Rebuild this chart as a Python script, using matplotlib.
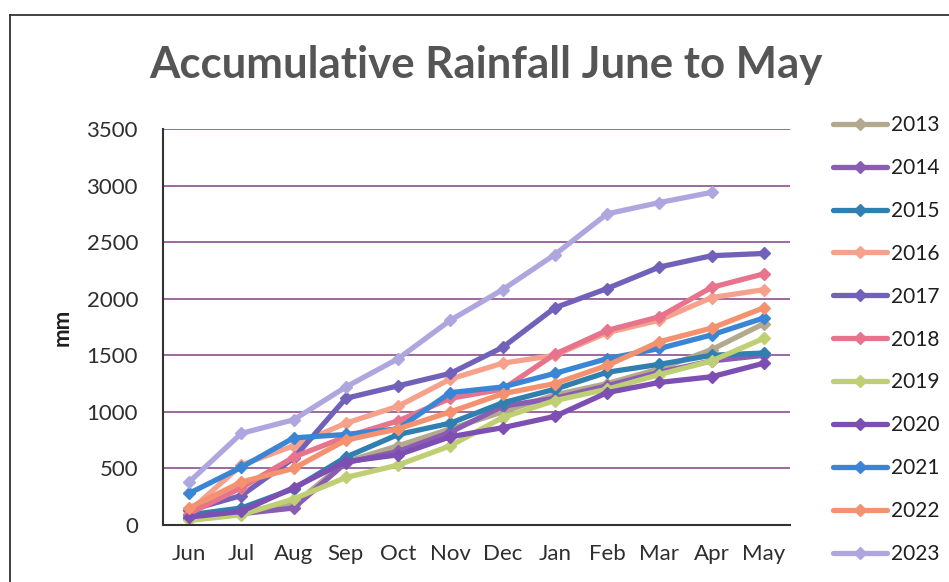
import numpy as np
import matplotlib.pyplot as plt
from matplotlib.lines import Line2D

plt.rcParams['font.family'] = ['Lato', 'DejaVu Sans']

months = ["Jun", "Jul", "Aug", "Sep", "Oct", "Nov", "Dec", "Jan", "Feb", "Mar", "Apr", "May"]
years = ["2013", "2014", "2015", "2016", "2017", "2018", "2019", "2020", "2021", "2022", "2023"]

# cumulative rainfall, mm
y2013 = [50, 120, 180, 560, 700, 850, 1000, 1150, 1250, 1380, 1550, 1780]
y2014 = [60, 100, 150, 550, 650, 820, 1050, 1120, 1230, 1350, 1450, 1500]
y2015 = [90, 150, 320, 600, 800, 900, 1080, 1200, 1350, 1420, 1500, 1520]
y2016 = [120, 530, 700, 900, 1050, 1290, 1430, 1500, 1700, 1810, 2010, 2080]
y2017 = [130, 260, 590, 1120, 1230, 1340, 1570, 1920, 2090, 2280, 2380, 2400]
y2018 = [100, 330, 600, 780, 920, 1120, 1200, 1510, 1720, 1840, 2100, 2220]
y2019 = [40, 90, 230, 420, 530, 700, 950, 1100, 1200, 1330, 1450, 1650]
y2020 = [70, 120, 330, 560, 620, 780, 860, 960, 1170, 1260, 1310, 1430]
y2021 = [280, 510, 770, 800, 850, 1170, 1220, 1340, 1470, 1560, 1680, 1830]
y2022 = [150, 380, 500, 750, 850, 1000, 1160, 1250, 1410, 1620, 1740, 1920]
y2023 = [380, 810, 930, 1220, 1470, 1810, 2080, 2390, 2750, 2850, 2940, np.nan]

series = [y2013, y2014, y2015, y2016, y2017, y2018, y2019, y2020, y2021, y2022, y2023]
colors = ["#B3A98E", "#8A5DB3", "#2F7FB0", "#F5A18C", "#7261B8", "#E8738C",
          "#BFCF73", "#7E4FB2", "#3B86D4", "#F4926F", "#AEA6DE"]

fig = plt.figure(figsize=(9.49, 5.82), dpi=100)
ax = fig.add_axes([163 / 949, 57 / 582, 627 / 949, 396 / 582])

x = np.arange(len(months))
handles = []
for vals, c, lab in zip(series, colors, years):
    h, = ax.plot(x, vals, color=c, lw=3.8, marker="D", ms=6.5,
                 mec=c, mfc=c, label=lab, solid_capstyle="round")
    handles.append(h)

ax.set_xlim(-0.5, 11.5)
ax.set_ylim(0, 3500)
ax.set_yticks(np.arange(0, 3501, 500))
ax.set_xticks(x)
ax.set_xticklabels(months)
ax.tick_params(length=0, labelsize=16, colors="#2E2E2E", pad=14)
ax.tick_params(axis="y", pad=18)
ax.grid(axis="y", color="#8E4E8E", lw=1.2)
ax.set_axisbelow(True)
for s in ["top", "right"]:
    ax.spines[s].set_visible(False)
ax.spines["left"].set_color("#333333")
ax.spines["bottom"].set_color("#333333")
ax.spines["left"].set_linewidth(1.5)
ax.spines["bottom"].set_linewidth(1.5)

ax.set_ylabel("mm", fontsize=16, fontweight="bold", color="#1E1E1E", labelpad=10)

fig.text(0.512, 0.888, "Accumulative Rainfall June to May", ha="center", va="center",
         fontsize=31.5, fontweight="bold", color="#555555")

leg = fig.legend(handles=handles, loc="upper left", bbox_to_anchor=(833 / 949, 1 - 115 / 582),
                 frameon=False, fontsize=15, handlelength=2.6, labelspacing=1.1,
                 handletextpad=0.2, borderaxespad=0, borderpad=0)
for t in leg.get_texts():
    t.set_color("#1E1E1E")

# outer frame of the chart
fig.add_artist(Line2D([10 / 949, 10 / 949], [0, 1 - 15 / 582], color="#333333", lw=1.3))
fig.add_artist(Line2D([10 / 949, 1], [1 - 15 / 582, 1 - 15 / 582], color="#333333", lw=1.3))

fig.savefig("out.png", dpi=100)
